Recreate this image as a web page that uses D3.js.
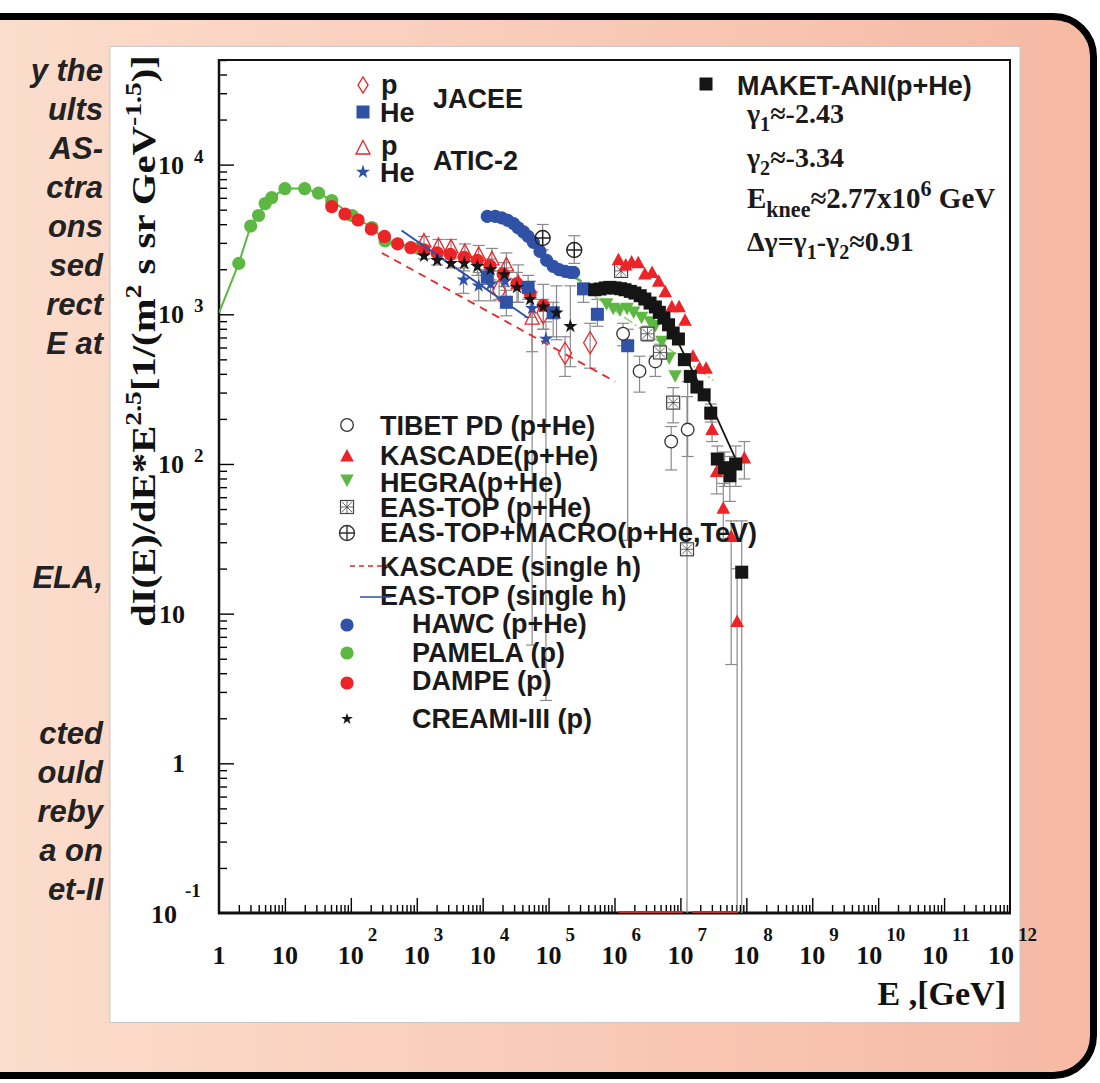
<!DOCTYPE html>
<html>
<head>
<meta charset="utf-8">
<script src="https://d3js.org/d3.v7.min.js"></script>
<style>
  body { margin: 0; background: #fff; }
</style>
</head>
<body>
<svg id="chart" width="1100" height="1083"></svg>
<script>
// Values are log10 numbers:
// E in GeV, flux = dI/dE*E^2.5 in 1/(m^2 s sr GeV^-1.5)

var pamelaLogE = [0.30, 0.48, 0.60, 0.70, 0.80, 1.00, 1.30, 1.51, 1.71, 2.02, 2.32, 2.52, 3.03];
var pamelaLogF = [3.34, 3.59, 3.66, 3.74, 3.78, 3.84, 3.84, 3.81, 3.76, 3.66, 3.58, 3.49, 3.44];
var pamelaStart = [0.0, 3.01];   // where the PAMELA curve leaves the axis

var dampeLogE = [1.71, 1.91, 2.11, 2.31, 2.51, 2.71, 2.91, 3.11, 3.31, 3.51, 3.72, 3.92, 4.11, 4.31, 4.52, 4.72, 4.92];
var dampeLogF = [3.72, 3.67, 3.63, 3.57, 3.52, 3.47, 3.445, 3.43, 3.41, 3.40, 3.38, 3.36, 3.325, 3.27, 3.205, 3.14, 3.06];

var creamLogE = [3.11, 3.31, 3.52, 3.72, 3.92, 4.12, 4.33, 4.52, 4.72, 4.92, 5.12, 5.33];
var creamLogF = [3.39, 3.36, 3.34, 3.34, 3.32, 3.30, 3.265, 3.18, 3.10, 3.05, 3.01, 2.92];
var creamErr  = [0.02, 0.03, 0.03, 0.05, 0.06, 0.07, 0.08, 0.10, 0.12, 0.15, 0.18, 0.27];

var hawcLogE = [4.07, 4.19, 4.29, 4.38, 4.47, 4.54, 4.62, 4.69, 4.77, 4.87, 4.97, 5.07, 5.16, 5.25, 5.33, 5.38];
var hawcLogF = [3.654, 3.654, 3.644, 3.628, 3.606, 3.577, 3.55, 3.521, 3.481, 3.42, 3.36, 3.32, 3.298, 3.287, 3.28, 3.28];
var hawcFitLogE = [4.10, 4.40, 4.70, 4.90, 5.10, 5.30, 5.50];
var hawcFitLogF = [3.64, 3.60, 3.50, 3.40, 3.31, 3.27, 3.22];

var jaceePLogE = [4.25, 4.92, 5.25, 5.63];
var jaceePLogF = [3.16, 3.01, 2.74, 2.81];
var jaceePHi   = [3.22, 3.10, 2.85, 2.94];
var jaceePLo   = [3.10, 2.90, 2.585, 2.64];

var jaceeHeLogE = [4.07, 4.36, 4.69, 5.07, 5.53, 5.74, 6.20];
var jaceeHeLogF = [3.25, 3.08, 3.18, 3.01, 3.17, 3.00, 2.79];
var jaceeHeHi   = [3.30, 3.16, 3.26, 3.08, 3.20, 3.10, 2.90];
var jaceeHeLo   = [3.20, 2.99, 3.10, 2.85, 3.08, 2.92, 1.49];

var aticPLogE = [3.11, 3.33, 3.52, 3.73, 3.94, 4.14, 4.36, 4.54, 4.75];
var aticPLogF = [3.49, 3.46, 3.45, 3.42, 3.40, 3.37, 3.33, 3.21, 2.975];
var aticPHi   = [3.52, 3.50, 3.50, 3.47, 3.46, 3.44, 3.41, 3.33, 3.10];
var aticPLo   = [3.46, 3.42, 3.40, 3.36, 3.33, 3.29, 3.24, 3.08, 0.79];

var aticHeLogE = [3.71, 3.94, 4.12, 4.34, 4.75, 4.96];
var aticHeLogF = [3.23, 3.19, 3.20, 3.22, 3.04, 2.835];
var aticHeHi   = [3.31, 3.28, 3.29, 3.31, 3.15, 2.95];
var aticHeLo   = [3.14, 3.09, 3.09, 3.12, 2.75, 0.42];

var tibetLogE = [6.13, 6.38, 6.62, 6.86, 7.11];
var tibetLogF = [2.87, 2.62, 2.685, 2.15, 2.23];
var tibetHi   = [2.94, 2.72, 2.72, 2.25, 2.55];
var tibetLo   = [2.79, 2.48, 2.585, 1.96, 2.05];

var kascadeLogE = [6.06, 6.17, 6.26, 6.36, 6.46, 6.57, 6.67, 6.77, 6.87, 6.98, 7.07, 7.19, 7.29, 7.39, 7.48, 7.55, 7.65, 7.77, 7.86, 7.97];
var kascadeLogF = [3.365, 3.33, 3.35, 3.345, 3.27, 3.28, 3.22, 3.15, 3.05, 3.05, 2.96, 2.72, 2.64, 2.64, 2.23, 1.95, 1.705, 1.515, 0.947, 2.04];
var kascadeHi   = [null, null, null, null, null, null, null, null, null, null, null, null, null, null, 2.30, 2.07, 1.87, 1.62, 1.30, 2.15];
var kascadeLo   = [null, null, null, null, null, null, null, null, null, null, null, null, null, null, 2.15, 1.80, 1.50, 0.66, -1, 1.90];

var maketLogE = [5.70, 5.78, 5.86, 5.93, 6.01, 6.09, 6.16, 6.24, 6.31, 6.39, 6.46, 6.54, 6.62, 6.68, 6.75, 6.82, 6.89, 6.97, 7.06, 7.15, 7.25, 7.36, 7.46, 7.56, 7.67, 7.75, 7.84, 7.93];
var maketLogF = [3.164, 3.169, 3.176, 3.18, 3.176, 3.171, 3.164, 3.153, 3.142, 3.124, 3.102, 3.075, 3.049, 3.013, 2.975, 2.93, 2.875, 2.835, 2.697, 2.585, 2.514, 2.462, 2.34, 2.033, 1.975, 1.921, 2.0, 1.277];
var maketHi = [null, null, null, null, null, null, null, null, null, null, null, null, null, null, null, null, null, null, null, null, null, null, 2.40, 2.12, 2.08, 2.05, 2.12, 1.62];
var maketLo = [null, null, null, null, null, null, null, null, null, null, null, null, null, null, null, null, null, null, null, null, null, null, 2.28, 1.93, 1.85, 1.75, 1.85, -1];
var maketFitLogE = [5.70, 6.00, 6.30, 6.60, 6.90, 7.07, 7.30, 7.48, 7.83];
var maketFitLogF = [3.165, 3.178, 3.145, 3.05, 2.87, 2.72, 2.52, 2.38, 2.04];

var hegraLogE = [5.88, 5.98, 6.08, 6.19, 6.29, 6.41, 6.54, 6.62, 6.72, 6.83, 6.92];
var hegraLogF = [3.07, 3.04, 3.03, 3.04, 3.015, 2.98, 2.95, 2.925, 2.82, 2.71, 2.59];
var hegraFitLogE = [5.70, 7.50];
var hegraFitLogF = [3.12, 2.56];

var easTopLogE = [6.10, 6.50, 6.69, 6.89, 7.10];
var easTopLogF = [3.29, 2.87, 2.745, 2.41, 1.43];
var easTopHi   = [3.32, 2.92, 2.80, 2.51, 2.45];
var easTopLo   = [3.26, 2.82, 2.70, 2.275, -1];

var easMacroLogE = [4.91, 5.39];
var easMacroLogF = [3.51, 3.43];
var easMacroHi   = [3.60, 3.525];
var easMacroLo   = [3.43, 3.34];

var kascadeSingleLogE = [2.47, 6.01];
var kascadeSingleLogF = [3.41, 2.55];
var easTopSingleLogE = [2.77, 4.69];
var easTopSingleLogF = [3.56, 2.975];

// clipped red error bars lying on the bottom axis
var axisRedLogE = [[6.06, 7.04], [7.18, 7.86]];

var xTickExp = [0, 1, 2, 3, 4, 5, 6, 7, 8, 9, 10, 11, 12];
var yTickExp = [-1, 0, 1, 2, 3, 4];

var midLegend = ["TIBET PD (p+He)", "KASCADE(p+He)", "HEGRA(p+He)", "EAS-TOP (p+He)",
  "EAS-TOP+MACRO(p+He,TeV)", "KASCADE (single h)", "EAS-TOP (single h)",
  "HAWC (p+He)", "PAMELA (p)", "DAMPE (p)", "CREAMI-III (p)"];

var leftText = ["y the", "ults", "AS-", "ctra", "ons", "sed", "rect", "E at",
  "ELA,", "cted", "ould", "reby", "a on", "et-II"];
var leftTextRow = [0, 1, 2, 3, 4, 5, 6, 7, 13, 17, 18, 19, 20, 21];

var SANS = "'Liberation Sans', Arial, Helvetica, sans-serif";
var SERIF = "'Liberation Serif', 'Times New Roman', serif";
var GREEN = "#5db842", RED = "#ec2327", BLUE = "#2f51a6", BLACK = "#151515", GREY = "#8a8a8a";

var svg = d3.select("#chart");

// ---------- slide background ----------
var defs = svg.append("defs");
var grad = defs.append("linearGradient").attr("id", "peach")
    .attr("x1", 0).attr("x2", 1).attr("y1", 0).attr("y2", 0);
grad.append("stop").attr("offset", 0).attr("stop-color", "#fcdece");
grad.append("stop").attr("offset", 1).attr("stop-color", "#f6b9a4");

svg.append("rect").attr("width", 1100).attr("height", 1083).attr("fill", "#fff");
svg.append("rect")
    .attr("x", -40).attr("y", 16.5).attr("width", 1133.5).attr("height", 1059)
    .attr("rx", 40).attr("ry", 40)
    .attr("fill", "url(#peach)").attr("stroke", "#000").attr("stroke-width", 7);

// cut-off slide text on the left
svg.append("g").selectAll("text").data(leftText).join("text")
    .attr("x", 103)
    .attr("y", function (d, i) { return 81 + 39 * leftTextRow[i]; })
    .attr("text-anchor", "end")
    .attr("font-family", SANS).attr("font-weight", "bold").attr("font-style", "italic")
    .attr("font-size", 31).attr("fill", "#222")
    .text(function (d) { return d; });

// white figure panel
svg.append("rect").attr("x", 110).attr("y", 46.5).attr("width", 910).attr("height", 976)
    .attr("fill", "#fff").attr("stroke", "#c8c8c8").attr("stroke-width", 1);

// ---------- scales ----------
var x = d3.scaleLog().domain([1, 1e12]).range([219, 1010]);
var y = d3.scaleLog().domain([0.1, 5e4]).range([913, 60]);
function px(le) { return x(Math.pow(10, le)); }
function py(lf) { return y(Math.pow(10, lf)); }

defs.append("clipPath").attr("id", "plotclip").append("rect")
    .attr("x", 219).attr("y", 60).attr("width", 791).attr("height", 853);

// ---------- axes ----------
var xMinor = [], xMajor = [];
for (var k = 0; k < 12; k++) {
    for (var m = 2; m <= 9; m++) xMinor.push(m * Math.pow(10, k));
    if (k > 0) xMajor.push(Math.pow(10, k));
}
var yMinor = [], yMajor = [];
for (var k = -1; k <= 4; k++) {
    for (var m = 2; m <= 9; m++) {
        var v = m * Math.pow(10, k);
        if (v <= 5e4) yMinor.push(v);
    }
    if (k > -1) yMajor.push(Math.pow(10, k));
}

function tickAxis(axis, transform) {
    var g = svg.append("g").attr("transform", transform).call(axis);
    g.select(".domain").remove();
    g.selectAll("line").attr("stroke", "#000").attr("stroke-width", 1.4);
    g.selectAll("text").remove();
    return g;
}
tickAxis(d3.axisBottom(x).tickValues(xMinor).tickSize(-8).tickFormat(""), "translate(0,913)");
tickAxis(d3.axisBottom(x).tickValues(xMajor).tickSize(-15).tickFormat(""), "translate(0,913)");
tickAxis(d3.axisLeft(y).tickValues(yMinor).tickSize(-8).tickFormat(""), "translate(219,0)");
tickAxis(d3.axisLeft(y).tickValues(yMajor).tickSize(-15).tickFormat(""), "translate(219,0)");

// frame
svg.append("rect").attr("x", 219).attr("y", 60).attr("width", 791).attr("height", 853)
    .attr("fill", "none").attr("stroke", "#111").attr("stroke-width", 2);
svg.append("line").attr("x1", 218).attr("x2", 1011).attr("y1", 913).attr("y2", 913)
    .attr("stroke", "#111").attr("stroke-width", 3);
svg.append("line").attr("x1", 219).attr("x2", 219).attr("y1", 59).attr("y2", 914)
    .attr("stroke", "#111").attr("stroke-width", 2.5);

// tick labels
var xLab = svg.append("g").attr("font-family", SERIF).attr("font-weight", "bold").attr("fill", "#111");
xTickExp.forEach(function (e) {
    var cx = x(Math.pow(10, e));
    if (e === 0 || e === 1) {
        xLab.append("text").attr("x", cx).attr("y", 964).attr("text-anchor", "middle")
            .attr("font-size", 26).text(e === 0 ? "1" : "10");
        return;
    }
    var shift = String(e).length > 1 ? -9 : 0;
    xLab.append("text").attr("x", cx + shift).attr("y", 964).attr("text-anchor", "middle")
        .attr("font-size", 26).text("10");
    xLab.append("text").attr("x", cx + shift + 17).attr("y", 941)
        .attr("font-size", 19).text(String(e));
});

var yLab = svg.append("g").attr("font-family", SERIF).attr("font-weight", "bold").attr("fill", "#111");
yTickExp.forEach(function (e) {
    var cy = y(Math.pow(10, e));
    if (e === 0 || e === 1) {
        yLab.append("text").attr("x", 185).attr("y", cy + 9).attr("text-anchor", "end")
            .attr("font-size", 26).text(e === 0 ? "1" : "10");
    } else if (e < 0) {
        yLab.append("text").attr("x", 177).attr("y", cy + 10).attr("text-anchor", "end")
            .attr("font-size", 26).text("10");
        yLab.append("text").attr("x", 185).attr("y", cy - 16).attr("font-size", 19).text(String(e));
    } else {
        yLab.append("text").attr("x", 184).attr("y", cy + 9).attr("text-anchor", "end")
            .attr("font-size", 26).text("10");
        yLab.append("text").attr("x", 194).attr("y", cy - 2).attr("font-size", 19).text(String(e));
    }
});

// rich text helper: parts = [[text, "sup"|"sub"|null], ...]
function rich(sel, parts, size, small) {
    var off = 0;
    parts.forEach(function (p) {
        var shift = p[1] === "sup" ? -size * 0.42 : (p[1] === "sub" ? size * 0.3 : 0);
        sel.append("tspan").attr("dy", shift - off)
            .attr("font-size", p[1] ? size * (small || 0.68) : size).text(p[0]);
        off = shift;
    });
    return sel;
}

// axis titles
svg.append("text").attr("x", 1006).attr("y", 1005).attr("text-anchor", "end")
    .attr("font-family", SERIF).attr("font-weight", "bold").attr("font-size", 34)
    .attr("fill", "#111").text("E ,[GeV]");

var yTitleG = svg.append("g").attr("transform", "translate(155,341) rotate(-90)");
var yTitle = yTitleG.append("text").attr("text-anchor", "middle")
    .attr("font-family", SERIF).attr("font-weight", "bold").attr("fill", "#111");
rich(yTitle, [["dI(E)/dE*E", null], ["2.5", "sup"], ["[1/(m", null], ["2", "sup"],
    [" s sr GeV", null], ["-1.5", "sup"], [")]", null]], 33);
var yLen = yTitle.node().getComputedTextLength();
yTitle.attr("transform", "scale(" + (572 / yLen) + ",1)");

// ---------- marks ----------
var plot = svg.append("g").attr("clip-path", "url(#plotclip)");

function sym(g, type, cx, cy, color) {
    switch (type) {
        case "circle":
            g.append("circle").attr("cx", cx).attr("cy", cy).attr("r", 6.6).attr("fill", color); break;
        case "ocircle":
            g.append("circle").attr("cx", cx).attr("cy", cy).attr("r", 6.3).attr("fill", "#fff")
                .attr("stroke", color).attr("stroke-width", 1.3); break;
        case "square":
            g.append("rect").attr("x", cx - 6.5).attr("y", cy - 6.5).attr("width", 13).attr("height", 13)
                .attr("fill", color); break;
        case "tri":
            g.append("path").attr("d", "M" + cx + "," + (cy - 7) + "L" + (cx + 6.8) + "," + (cy + 5.5) +
                "L" + (cx - 6.8) + "," + (cy + 5.5) + "Z").attr("fill", color); break;
        case "dtri":
            g.append("path").attr("d", "M" + cx + "," + (cy + 7) + "L" + (cx + 6.8) + "," + (cy - 5.5) +
                "L" + (cx - 6.8) + "," + (cy - 5.5) + "Z").attr("fill", color); break;
        case "otri":
            g.append("path").attr("d", "M" + cx + "," + (cy - 7.5) + "L" + (cx + 7) + "," + (cy + 6) +
                "L" + (cx - 7) + "," + (cy + 6) + "Z").attr("fill", "none")
                .attr("stroke", color).attr("stroke-width", 1.3); break;
        case "diamond":
            g.append("path").attr("d", "M" + cx + "," + (cy - 11) + "L" + (cx + 6.5) + "," + cy +
                "L" + cx + "," + (cy + 11) + "L" + (cx - 6.5) + "," + cy + "Z").attr("fill", "none")
                .attr("stroke", color).attr("stroke-width", 1.3); break;
        case "ldiamond":
            g.append("path").attr("d", "M" + cx + "," + (cy - 8) + "L" + (cx + 5) + "," + cy +
                "L" + cx + "," + (cy + 8) + "L" + (cx - 5) + "," + cy + "Z").attr("fill", "none")
                .attr("stroke", color).attr("stroke-width", 1.4); break;
        case "star":
            g.append("path").attr("transform", "translate(" + cx + "," + cy + ")")
                .attr("d", d3.symbol().type(d3.symbolStar).size(62)()).attr("fill", color); break;
        case "sstar":
            g.append("path").attr("transform", "translate(" + cx + "," + cy + ")")
                .attr("d", d3.symbol().type(d3.symbolStar).size(42)()).attr("fill", color); break;
        case "boxx":
            var b = g.append("g").attr("stroke", "#444").attr("fill", "#fff");
            b.append("rect").attr("x", cx - 6.5).attr("y", cy - 6.5).attr("width", 13).attr("height", 13)
                .attr("stroke-width", 1.2);
            b.append("path").attr("stroke-width", 0.8).attr("d",
                "M" + (cx - 5) + "," + (cy - 5) + "L" + (cx + 5) + "," + (cy + 5) +
                "M" + (cx + 5) + "," + (cy - 5) + "L" + (cx - 5) + "," + (cy + 5) +
                "M" + cx + "," + (cy - 6) + "V" + (cy + 6) + "M" + (cx - 6) + "," + cy + "H" + (cx + 6));
            break;
        case "cplus":
            var c = g.append("g").attr("stroke", color).attr("fill", "none").attr("stroke-width", 1.4);
            c.append("circle").attr("cx", cx).attr("cy", cy).attr("r", 7.5);
            c.append("path").attr("d", "M" + (cx - 7.5) + "," + cy + "H" + (cx + 7.5) +
                "M" + cx + "," + (cy - 7.5) + "V" + (cy + 7.5));
            break;
    }
}

function errBars(le, hi, lo) {
    var g = plot.append("g").attr("stroke", GREY).attr("stroke-width", 1.2);
    le.forEach(function (e, i) {
        if (hi[i] === null || hi[i] === undefined) return;
        var cx = px(e), y1 = py(hi[i]), y2 = py(lo[i]);
        g.append("line").attr("x1", cx).attr("x2", cx).attr("y1", y1).attr("y2", y2);
        g.append("line").attr("x1", cx - 6).attr("x2", cx + 6).attr("y1", y1).attr("y2", y1);
        if (lo[i] > -1) g.append("line").attr("x1", cx - 6).attr("x2", cx + 6).attr("y1", y2).attr("y2", y2);
    });
}

function series(le, lf, type, color) {
    var g = plot.append("g");
    le.forEach(function (e, i) { sym(g, type, px(e), py(lf[i]), color); });
}

function curve(le, lf, color, width, dash) {
    var pts = le.map(function (e, i) { return [px(e), py(lf[i])]; });
    plot.append("path").attr("d", d3.line()(pts)).attr("fill", "none")
        .attr("stroke", color).attr("stroke-width", width)
        .attr("stroke-dasharray", dash || null);
}

// clipped red bars on the axis
axisRedLogE.forEach(function (s) {
    svg.append("line").attr("x1", px(s[0])).attr("x2", px(s[1])).attr("y1", 912).attr("y2", 912)
        .attr("stroke", "#b8322e").attr("stroke-width", 2);
});

// error bars
errBars(creamLogE, creamLogF.map(function (f, i) { return f + creamErr[i]; }),
    creamLogF.map(function (f, i) { return f - creamErr[i]; }));
errBars(aticPLogE, aticPHi, aticPLo);
errBars(aticHeLogE, aticHeHi, aticHeLo);
errBars(jaceePLogE, jaceePHi, jaceePLo);
errBars(jaceeHeLogE, jaceeHeHi, jaceeHeLo);
errBars(tibetLogE, tibetHi, tibetLo);
errBars(easTopLogE, easTopHi, easTopLo);
errBars(easMacroLogE, easMacroHi, easMacroLo);
errBars(kascadeLogE, kascadeHi, kascadeLo);
errBars(maketLogE, maketHi, maketLo);

// lines
curve([pamelaStart[0]].concat(pamelaLogE), [pamelaStart[1]].concat(pamelaLogF), GREEN, 2);
curve(hawcFitLogE, hawcFitLogF, GREEN, 2.5);
curve(hegraFitLogE, hegraFitLogF, "#8fd07a", 1.5, "10,3,2,3");
curve(kascadeSingleLogE, kascadeSingleLogF, RED, 1.8, "8,6");

// markers
series(pamelaLogE, pamelaLogF, "circle", GREEN);
series(hawcLogE, hawcLogF, "circle", BLUE);
series(aticPLogE, aticPLogF, "otri", RED);
series(jaceePLogE, jaceePLogF, "diamond", RED);
series(dampeLogE, dampeLogF, "circle", RED);
series(jaceeHeLogE, jaceeHeLogF, "square", BLUE);
curve(easTopSingleLogE, easTopSingleLogF, BLUE, 2);
series(aticHeLogE, aticHeLogF, "star", BLUE);
series(creamLogE, creamLogF, "star", BLACK);
series(easMacroLogE, easMacroLogF, "cplus", "#222");
series(tibetLogE, tibetLogF, "ocircle", "#333");
series(hegraLogE, hegraLogF, "dtri", GREEN);
series(easTopLogE, easTopLogF, "boxx", "#444");
series(kascadeLogE, kascadeLogF, "tri", RED);
series(maketLogE, maketLogF, "square", BLACK);
curve(maketFitLogE, maketFitLogF, BLACK, 1.8);

// ---------- legends ----------
var leg = svg.append("g").attr("font-family", SANS).attr("font-weight", "bold").attr("fill", "#1a1a1a");

// JACEE / ATIC-2 block
sym(leg, "ldiamond", 363, 85, RED);
sym(leg, "square", 363, 112, BLUE);
sym(leg, "otri", 363, 148, RED);
sym(leg, "star", 363, 172, BLUE);
leg.append("text").attr("x", 381).attr("y", 94).attr("font-size", 27).text("p");
leg.append("text").attr("x", 380).attr("y", 122).attr("font-size", 27).text("He");
leg.append("text").attr("x", 433).attr("y", 108).attr("font-size", 27).text("JACEE");
leg.append("text").attr("x", 381).attr("y", 155).attr("font-size", 27).text("p");
leg.append("text").attr("x", 380).attr("y", 182).attr("font-size", 27).text("He");
leg.append("text").attr("x", 433).attr("y", 170).attr("font-size", 27).text("ATIC-2");

// MAKET-ANI block
sym(leg, "square", 706, 84, BLACK);
leg.append("text").attr("x", 737).attr("y", 95).attr("font-size", 27).text("MAKET-ANI(p+He)");
var serifG = svg.append("g").attr("font-family", SERIF).attr("font-weight", "bold").attr("fill", "#1a1a1a");
rich(serifG.append("text").attr("x", 747).attr("y", 123),
    [["\u03b3", null], ["1", "sub"], ["\u2248-2.43", null]], 28, 0.72);
rich(serifG.append("text").attr("x", 747).attr("y", 167),
    [["\u03b3", null], ["2", "sub"], ["\u2248-3.34", null]], 28, 0.72);
rich(serifG.append("text").attr("x", 747).attr("y", 208),
    [["E", null], ["knee", "sub"], ["\u22482.77x10", null], ["6", "sup"], [" GeV", null]], 29, 0.76);
rich(serifG.append("text").attr("x", 747).attr("y", 251),
    [["\u0394\u03b3=\u03b3", null], ["1", "sub"], ["-\u03b3", null], ["2", "sub"], ["\u22480.91", null]], 28, 0.72);

// middle legend
var midBase = [435, 465, 492, 517, 542, 576, 605, 633, 662, 690, 728];
var midSym = [["ocircle", "#333", 425], ["tri", RED, 456], ["dtri", GREEN, 480], ["boxx", "#444", 507],
    ["cplus", "#333", 533], null, null, ["circle", BLUE, 625], ["circle", GREEN, 653],
    ["circle", RED, 683], ["sstar", BLACK, 719]];
midLegend.forEach(function (label, i) {
    leg.append("text").attr("x", i < 7 ? 380 : 412).attr("y", midBase[i])
        .attr("font-size", 27).text(label);
    if (midSym[i]) sym(leg, midSym[i][0], 347, midSym[i][2], midSym[i][1]);
});
leg.append("line").attr("x1", 350).attr("x2", 388).attr("y1", 566).attr("y2", 566)
    .attr("stroke", RED).attr("stroke-width", 1.3).attr("stroke-dasharray", "5,4");
leg.append("line").attr("x1", 360).attr("x2", 391).attr("y1", 597).attr("y2", 597)
    .attr("stroke", BLUE).attr("stroke-width", 1.5);
</script>
</body>
</html>
